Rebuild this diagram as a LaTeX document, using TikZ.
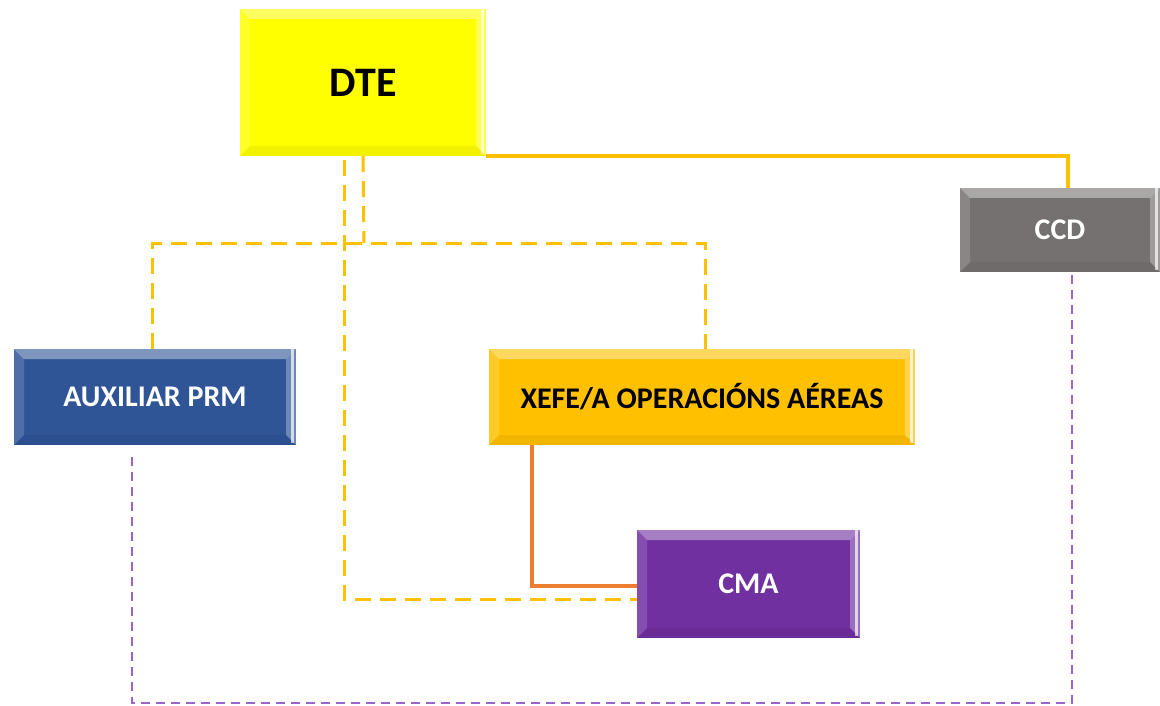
\documentclass[tikz,border=0pt]{standalone}
\usepackage{fontspec}
\setmainfont{Carlito}
\definecolor{dteY}{HTML}{FFFF00}
\definecolor{ccdG}{HTML}{767171}
\definecolor{auxB}{HTML}{2F5597}
\definecolor{xefeO}{HTML}{FFC000}
\definecolor{cmaP}{HTML}{7030A0}
\definecolor{goldL}{HTML}{FFC000}
\definecolor{orgL}{HTML}{ED7D31}
\definecolor{purL}{HTML}{9966CC}
\newcommand\bvl[1]{%
  \fill[white,opacity=.38] (path picture bounding box.north west) -- (path picture bounding box.north east) -- ([xshift=-#1,yshift=-#1]path picture bounding box.north east) -- ([xshift=#1,yshift=-#1]path picture bounding box.north west) -- cycle;
  \fill[white,opacity=.15] (path picture bounding box.north west) -- ([xshift=#1,yshift=-#1]path picture bounding box.north west) -- ([xshift=#1,yshift=#1]path picture bounding box.south west) -- (path picture bounding box.south west) -- cycle;
  \fill[white,opacity=.3] (path picture bounding box.north east) -- ([xshift=-#1,yshift=-#1]path picture bounding box.north east) -- ([xshift=-#1,yshift=#1]path picture bounding box.south east) -- (path picture bounding box.south east) -- cycle;
  \fill[white,opacity=.7] ([xshift=-2pt]path picture bounding box.north east) rectangle ([xshift=-5pt,yshift=2pt]path picture bounding box.south east);
  \fill[black,opacity=.05] (path picture bounding box.south west) -- ([xshift=#1,yshift=#1]path picture bounding box.south west) -- ([xshift=-#1,yshift=#1]path picture bounding box.south east) -- (path picture bounding box.south east) -- cycle;
}
\tikzset{
  box/.style={rectangle, inner sep=0pt, font=\bfseries\fontsize{30}{34}\selectfont, path picture={\bvl{10pt}}},
  gsolid/.style={draw=goldL, line width=3.5pt},
  gdash/.style={draw=goldL, line width=3pt, dash pattern=on 16pt off 9pt},
  osolid/.style={draw=orgL, line width=3.5pt},
  pdash/.style={draw=purL, line width=2.6pt, dash pattern=on 9pt off 6pt},
}
\begin{document}
\begin{tikzpicture}[x=1pt,y=-1pt]
\useasboundingbox[fill=white] (0,0) rectangle (1160,706);
\node[box, fill=dteY, minimum width=246pt, minimum height=147pt, text=black, font=\bfseries\fontsize{42}{46}\selectfont] (dte) at (363,82.5) {DTE};
\node[box, fill=ccdG, minimum width=200pt, minimum height=84pt, text=white] (ccd) at (1060,230) {CCD};
\node[box, fill=auxB, minimum width=282pt, minimum height=96pt, text=white] (aux) at (155,397) {AUXILIAR PRM};
\node[box, fill=xefeO, minimum width=426pt, minimum height=96pt, text=black] (xefe) at (702,397) {XEFE/A OPERACIÓNS AÉREAS};
\node[box, fill=cmaP, minimum width=223pt, minimum height=108pt, text=white] (cma) at (748.5,584) {CMA};
\coordinate (j1) at (364,243);
\coordinate (pb) at (1072,703);
\draw[gsolid] (dte.south east) -| ([xshift=8pt]ccd.north);
\draw[gdash] (dte.south) -- (j1);
\draw[gdash] ([xshift=-3pt]aux.north) |- (j1) -| ([xshift=3pt]xefe.north);
\draw[gdash] ([xshift=-19pt,yshift=-4pt]dte.south) |- ([yshift=-15pt]cma.west);
\draw[osolid] ([xshift=43pt]xefe.south west) |- ([yshift=-2pt]cma.west);
\draw[pdash] ([xshift=-23pt,yshift=-12pt]aux.south) |- (pb) -- ([xshift=12pt]ccd.south);
\end{tikzpicture}
\end{document}
